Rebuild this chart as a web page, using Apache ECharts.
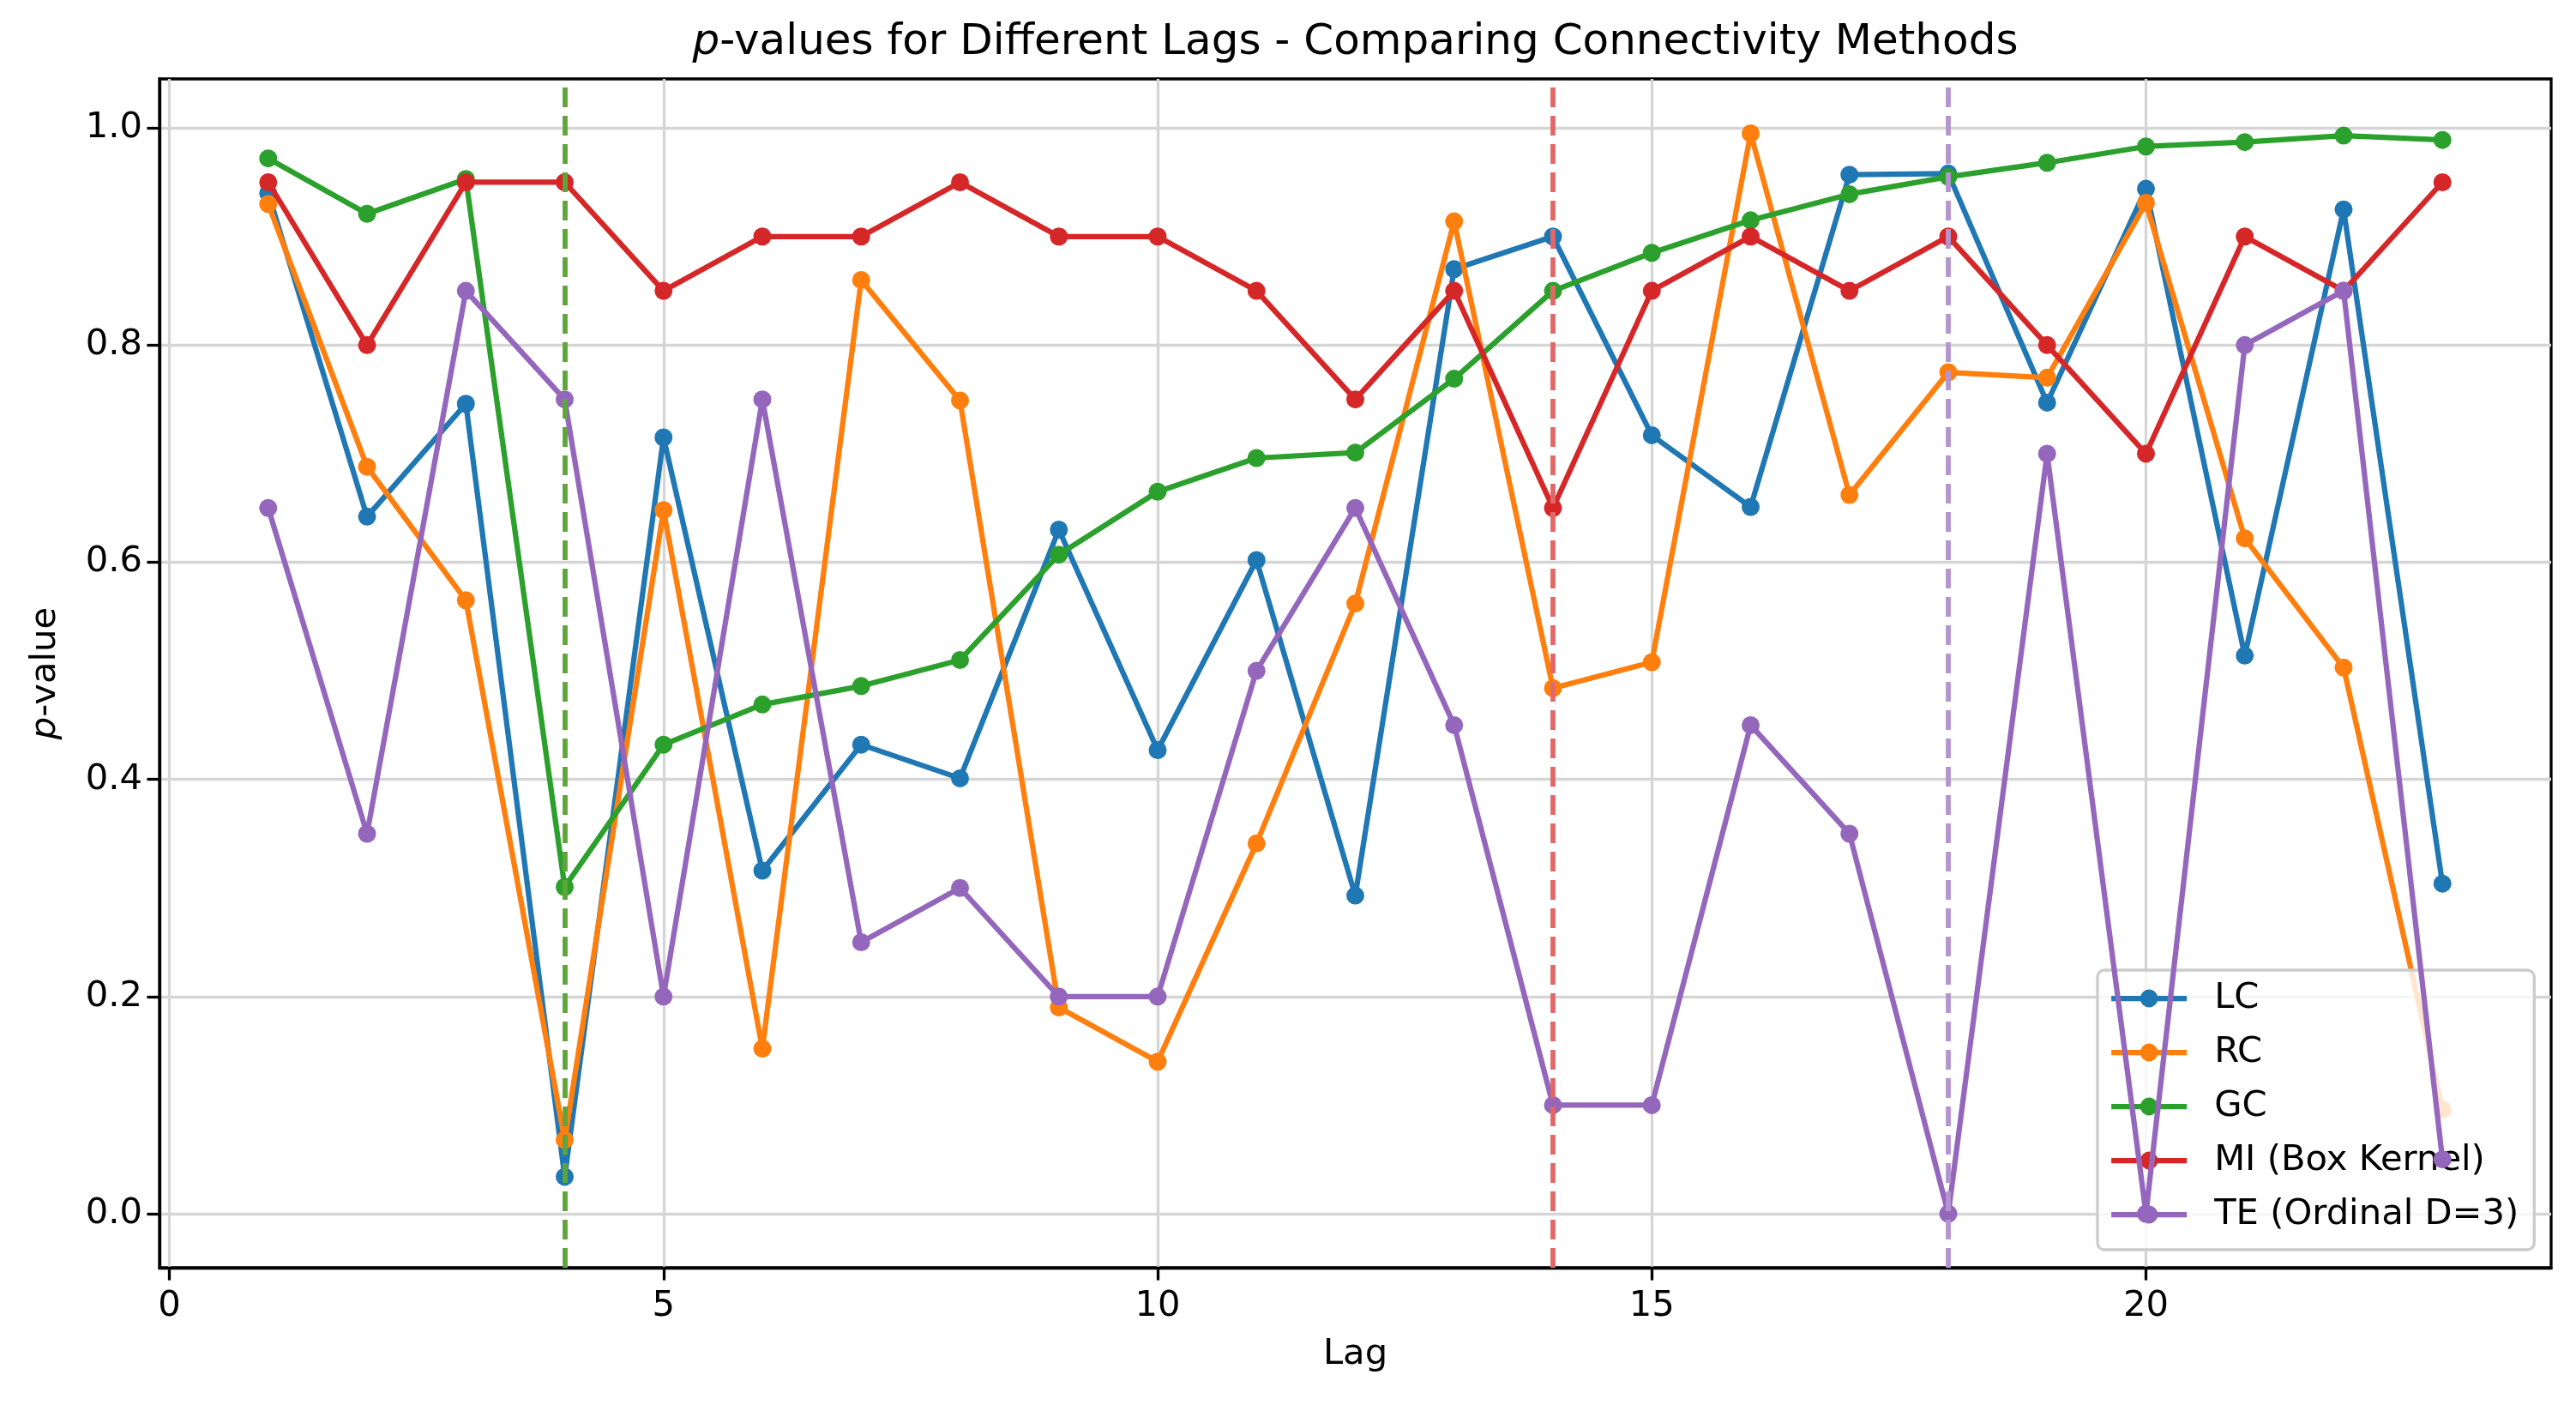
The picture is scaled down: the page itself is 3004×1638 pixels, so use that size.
<!DOCTYPE html>
<html>
<head>
<meta charset="utf-8">
<script src="https://cdn.jsdelivr.net/npm/echarts@6/dist/echarts.min.js"></script>
<style>html,body{margin:0;padding:0;background:#fff;}#chart{width:3004px;height:1638px;}</style>
</head>
<body>
<div id="chart"></div>
<script>
const lags = [1,2,3,4,5,6,7,8,9,10,11,12,13,14,15,16,17,18,19,20,21,22,23];
const lcValues = [0.940,0.642,0.746,0.034,0.715,0.316,0.432,0.401,0.630,0.427,0.602,0.293,0.870,0.900,0.717,0.651,0.957,0.958,0.747,0.944,0.514,0.925,0.304];
const rcValues = [0.930,0.688,0.565,0.068,0.648,0.152,0.860,0.749,0.190,0.140,0.341,0.562,0.914,0.484,0.508,0.995,0.662,0.775,0.770,0.931,0.622,0.503,0.096];
const gcValues = [0.972,0.921,0.953,0.301,0.432,0.469,0.486,0.510,0.607,0.665,0.696,0.701,0.769,0.850,0.885,0.915,0.939,0.955,0.968,0.983,0.987,0.993,0.989];
const miValues = [0.95,0.80,0.95,0.95,0.85,0.90,0.90,0.95,0.90,0.90,0.85,0.75,0.85,0.65,0.85,0.90,0.85,0.90,0.80,0.70,0.90,0.85,0.95];
const teValues = [0.65,0.35,0.85,0.75,0.20,0.75,0.25,0.30,0.20,0.20,0.50,0.65,0.45,0.10,0.10,0.45,0.35,0.00,0.70,0.00,0.80,0.85,0.05];
const seriesNames = ['LC','RC','GC','MI (Box Kernel)','TE (Ordinal D=3)'];
const seriesColors = ['#1f77b4','#ff7f0e','#2ca02c','#d62728','#9467bd'];
const markerLags = [4, 14, 18];
const markerColors = ['#5ea53a', '#e26868', '#b495d1'];
const xTicks = [0, 5, 10, 15, 20];
const yTicks = [0, 0.2, 0.4, 0.6, 0.8, 1.0];

const FONT = 'DejaVu Sans';
const FS = 41.7;
const allValues = [lcValues, rcValues, gcValues, miValues, teValues];

const chart = echarts.init(document.getElementById('chart'), null, {renderer: 'canvas'});

const series = allValues.map((vals, i) => ({
  name: seriesNames[i],
  type: 'line',
  data: lags.map((l, j) => [l, vals[j]]),
  symbol: 'circle',
  symbolSize: 21,
  showSymbol: true,
  color: seriesColors[i],
  lineStyle: {width: 6.25, color: seriesColors[i]},
  itemStyle: {color: seriesColors[i]},
  emphasis: {disabled: true},
  z: 2 + i
}));

series.push({
  name: 'vlines',
  type: 'line',
  data: [],
  z: 10,
  silent: true,
  markLine: {
    silent: true,
    symbol: ['none', 'none'],
    label: {show: false},
    animation: false,
    z: 10,
    data: markerLags.map((l, i) => ({
      xAxis: l,
      lineStyle: {color: markerColors[i], width: 5.8, type: [23, 10], opacity: 1}
    }))
  }
});

const option = {
  animation: false,
  backgroundColor: '#ffffff',
  textStyle: {fontFamily: FONT},
  grid: {
    left: 186, right: 29, top: 92, bottom: 160,
    show: true, borderColor: '#000', borderWidth: 3.3, backgroundColor: 'transparent'
  },
  xAxis: {
    type: 'value',
    min: -0.1, max: 24.1,
    name: 'Lag',
    nameLocation: 'middle',
    nameGap: 80,
    nameTextStyle: {fontSize: FS, fontFamily: FONT, color: '#000'},
    axisLine: {show: true, onZero: false, lineStyle: {color: '#000', width: 3.3}},
    axisTick: {show: true, length: 14.6, lineStyle: {color: '#000', width: 3.3}, customValues: xTicks},
    axisLabel: {show: true, customValues: xTicks, fontSize: FS, fontFamily: FONT, color: '#000', margin: 24,
      formatter: v => String(v)},
    splitLine: {show: true, lineStyle: {color: '#d5d5d5', width: 3.3}}
  },
  yAxis: {
    type: 'value',
    min: -0.0498, max: 1.0452,
    name: '{i|p}-value',
    nameLocation: 'middle',
    nameGap: 112,
    nameRotate: 90,
    nameTextStyle: {fontSize: FS, fontFamily: FONT, color: '#000',
      rich: {i: {fontStyle: 'italic', fontSize: FS, fontFamily: FONT, color: '#000'}}},
    axisLine: {show: true, onZero: false, lineStyle: {color: '#000', width: 3.3}},
    axisTick: {show: true, length: 14.6, lineStyle: {color: '#000', width: 3.3}, customValues: yTicks},
    axisLabel: {show: true, customValues: yTicks, fontSize: FS, fontFamily: FONT, color: '#000', margin: 20,
      formatter: v => v.toFixed(1)},
    splitLine: {show: true, lineStyle: {color: '#d5d5d5', width: 3.3}}
  },
  legend: {
    show: true,
    data: seriesNames,
    orient: 'vertical',
    left: 2446,
    top: 1131,
    padding: [12, 18, 20, 13],
    itemGap: 21,
    itemWidth: 88,
    itemHeight: 26,
    lineStyle: {width: 6.25},
    itemStyle: {borderWidth: 0},
    backgroundColor: 'rgba(255,255,255,0.8)',
    borderColor: '#cccccc',
    borderWidth: 3.3,
    borderRadius: 8,
    textStyle: {fontSize: FS, fontFamily: FONT, color: '#000', padding: [0, 0, 0, 27]},
    selectedMode: false
  },
  graphic: [{
    type: 'text',
    x: 1580.5,
    y: 50,
    silent: true,
    style: {
      text: '{i|p}-values for Different Lags - Comparing Connectivity Methods',
      align: 'center',
      verticalAlign: 'middle',
      fill: '#000',
      font: '50px "DejaVu Sans"',
      rich: {i: {fontStyle: 'italic', fontSize: 50, fontFamily: FONT, fill: '#000'}}
    }
  }],
  series: series
};
chart.setOption(option);
</script>
</body>
</html>
